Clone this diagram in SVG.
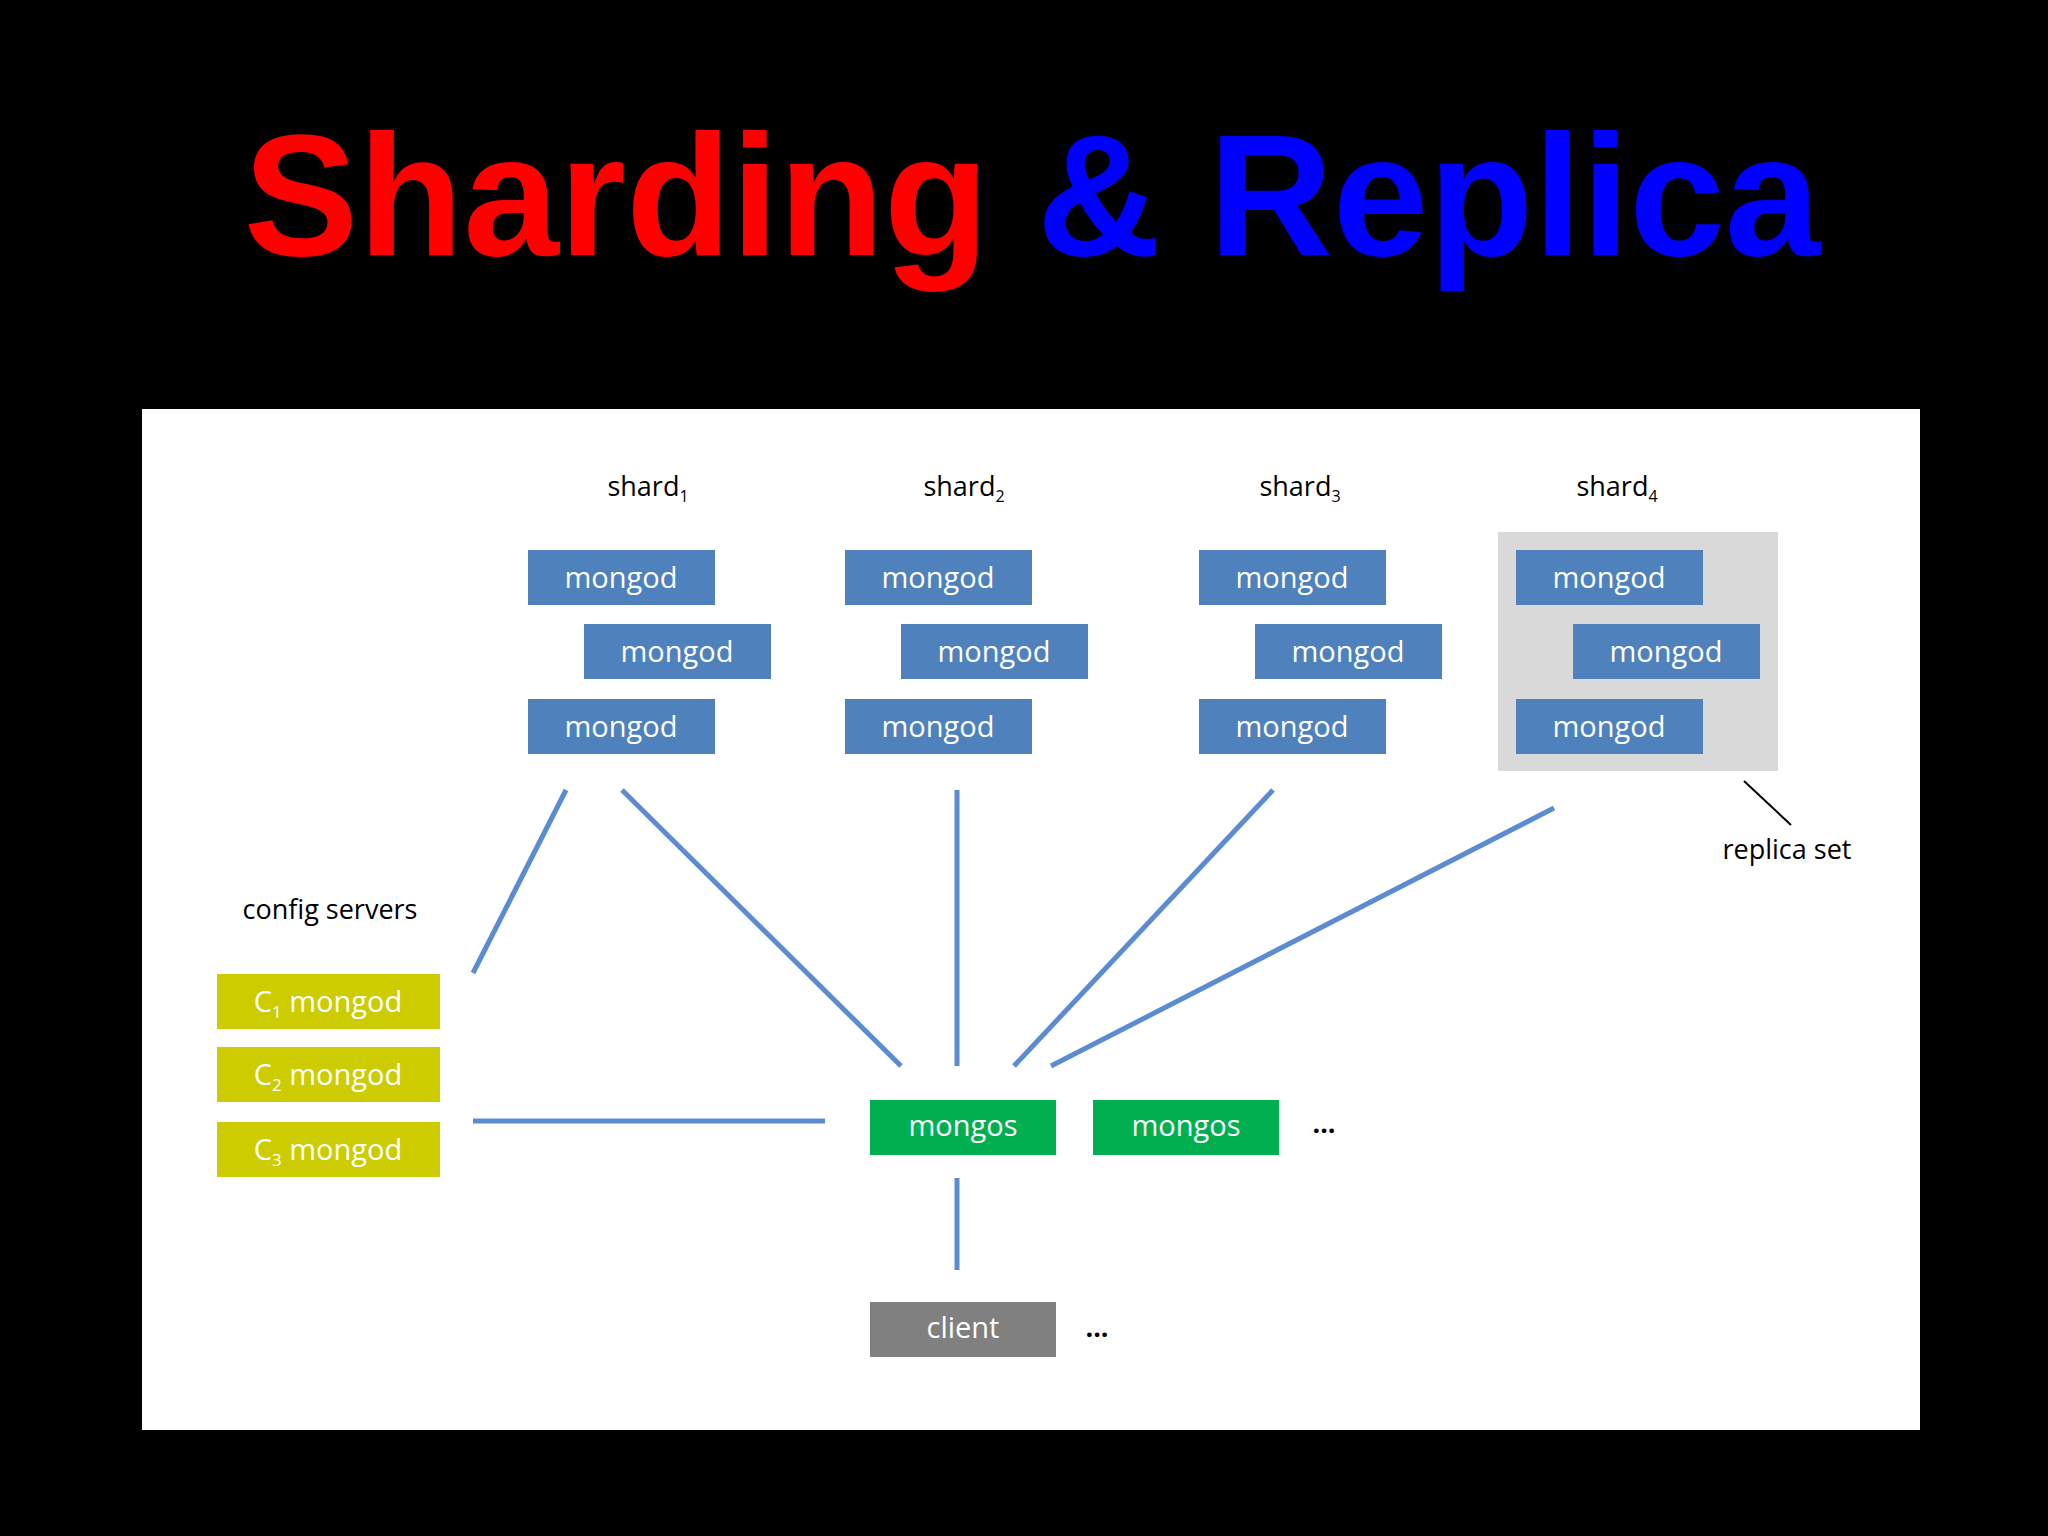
<svg xmlns="http://www.w3.org/2000/svg" width="2048" height="1536" viewBox="0 0 2048 1536">
<style>
.t{font-family:"Liberation Sans",Arial,sans-serif}
.n{font-family:"Open Sans","Liberation Sans",sans-serif;font-size:29px;fill:#fff;text-anchor:middle}
.l{font-family:"Open Sans","Liberation Sans",sans-serif;font-size:27px;fill:#000;text-anchor:middle}
.b{fill:#4F81BD}
.c{stroke:#5B8BD0;stroke-width:5;fill:none}
</style>
<rect width="2048" height="1536" fill="#000"/>
<text class="t" x="1032" y="255" font-size="172" font-weight="bold" text-anchor="middle"><tspan fill="#FF0000">Sharding </tspan><tspan fill="#0000FF">&amp; Replica</tspan></text>
<rect x="142" y="409" width="1778" height="1021" fill="#fff"/>
<rect x="1498" y="532" width="280" height="239" fill="#D9D9D9"/>
<g id="labels">
<text class="l" x="648" y="496">shard<tspan font-size="16" dy="6">1</tspan></text>
<text class="l" x="964" y="496">shard<tspan font-size="16" dy="6">2</tspan></text>
<text class="l" x="1300" y="496">shard<tspan font-size="16" dy="6">3</tspan></text>
<text class="l" x="1617" y="496">shard<tspan font-size="16" dy="6">4</tspan></text>
<text class="l" x="330" y="919">config servers</text>
<text class="l" x="1787" y="859" font-size="18">replica set</text>
<text class="l" x="1324" y="1133" font-weight="bold">...</text>
<text class="l" x="1097" y="1337" font-weight="bold">...</text>
</g>
<g id="connectors">
<line class="c" x1="566" y1="790" x2="473" y2="973"/>
<line class="c" x1="622" y1="790" x2="901" y2="1066"/>
<line class="c" x1="957" y1="790" x2="957" y2="1066"/>
<line class="c" x1="1273" y1="790" x2="1014" y2="1066"/>
<line class="c" x1="1554" y1="808" x2="1051" y2="1066"/>
<line class="c" x1="473" y1="1121" x2="825" y2="1121"/>
<line class="c" x1="957" y1="1178" x2="957" y2="1270"/>
<line x1="1744" y1="781" x2="1791" y2="825" stroke="#000" stroke-width="2"/>
</g>
<g id="s1">
<rect class="b" x="528" y="550" width="187" height="55"/><text class="n" x="621" y="588">mongod</text>
<rect class="b" x="584" y="624" width="187" height="55"/><text class="n" x="677" y="662">mongod</text>
<rect class="b" x="528" y="699" width="187" height="55"/><text class="n" x="621" y="737">mongod</text>
</g>
<g id="s2">
<rect class="b" x="845" y="550" width="187" height="55"/><text class="n" x="938" y="588">mongod</text>
<rect class="b" x="901" y="624" width="187" height="55"/><text class="n" x="994" y="662">mongod</text>
<rect class="b" x="845" y="699" width="187" height="55"/><text class="n" x="938" y="737">mongod</text>
</g>
<g id="s3">
<rect class="b" x="1199" y="550" width="187" height="55"/><text class="n" x="1292" y="588">mongod</text>
<rect class="b" x="1255" y="624" width="187" height="55"/><text class="n" x="1348" y="662">mongod</text>
<rect class="b" x="1199" y="699" width="187" height="55"/><text class="n" x="1292" y="737">mongod</text>
</g>
<g id="s4">
<rect class="b" x="1516" y="550" width="187" height="55"/><text class="n" x="1609" y="588">mongod</text>
<rect class="b" x="1573" y="624" width="187" height="55"/><text class="n" x="1666" y="662">mongod</text>
<rect class="b" x="1516" y="699" width="187" height="55"/><text class="n" x="1609" y="737">mongod</text>
</g>
<g id="config">
<rect x="217" y="974" width="223" height="55" fill="#CCCC00"/><text class="n" x="328" y="1012">C<tspan font-size="17" dy="6">1</tspan><tspan dy="-6"> mongod</tspan></text>
<rect x="217" y="1047" width="223" height="55" fill="#CCCC00"/><text class="n" x="328" y="1085">C<tspan font-size="17" dy="6">2</tspan><tspan dy="-6"> mongod</tspan></text>
<rect x="217" y="1122" width="223" height="55" fill="#CCCC00"/><text class="n" x="328" y="1160">C<tspan font-size="17" dy="6">3</tspan><tspan dy="-6"> mongod</tspan></text>
</g>
<g id="mongos1"><rect x="870" y="1100" width="186" height="55" fill="#00B050"/><text class="n" x="963" y="1136">mongos</text></g>
<g id="mongos2"><rect x="1093" y="1100" width="186" height="55" fill="#00B050"/><text class="n" x="1186" y="1136">mongos</text></g>
<g id="client"><rect x="870" y="1302" width="186" height="55" fill="#808080"/><text class="n" x="963" y="1338">client</text></g>
</svg>
